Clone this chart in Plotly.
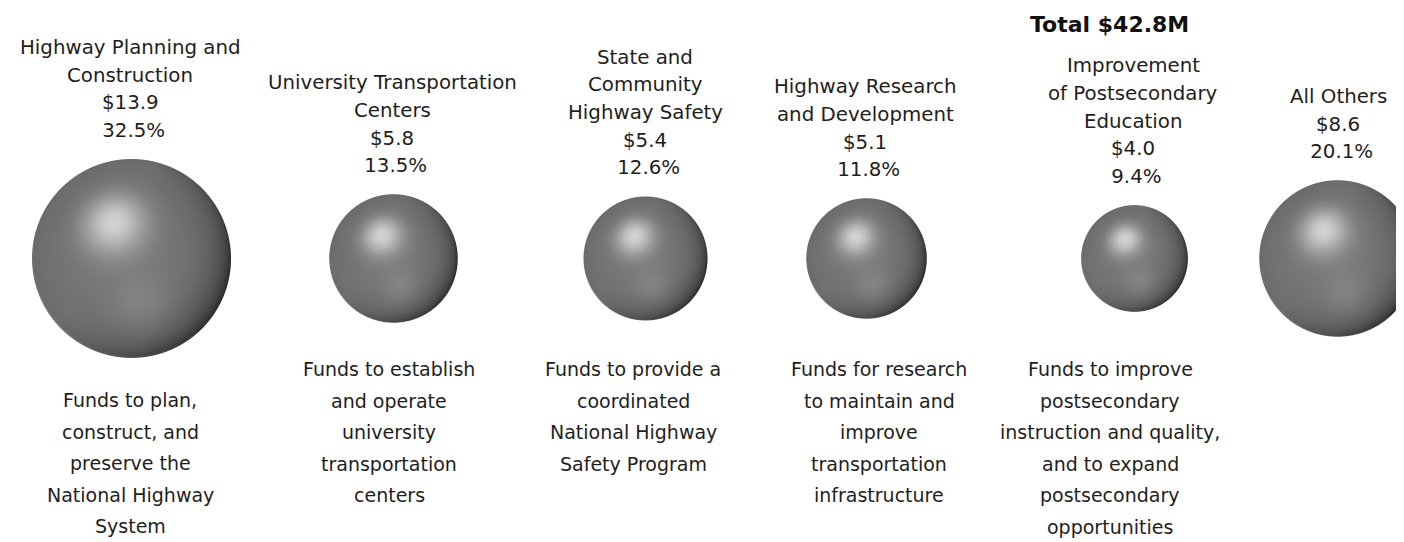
import plotly.graph_objects as go
import numpy as np

# ---- data ----
categories = [
    "Highway Planning and\nConstruction",
    "University Transportation\nCenters",
    "State and\nCommunity\nHighway Safety",
    "Highway Research\nand Development",
    "Improvement\nof Postsecondary\nEducation",
    "All Others",
]
amounts = [13.9, 5.8, 5.4, 5.1, 4.0, 8.6]          # $ millions
percents = [32.5, 13.5, 12.6, 11.8, 9.4, 20.1]
descriptions = [
    "Funds to plan,\nconstruct, and\npreserve the\nNational Highway\nSystem",
    "Funds to establish\nand operate\nuniversity\ntransportation\ncenters",
    "Funds to provide a\ncoordinated\nNational Highway\nSafety Program",
    "Funds for research\nto maintain and\nimprove\ntransportation\ninfrastructure",
    "Funds to improve\npostsecondary\ninstruction and quality,\nand to expand\npostsecondary\nopportunities",
    "",
]
total_label = "Total $42.8M"

# ---- layout (page-pixel space; page body has an 8px margin) ----
W, H = 1404, 542
OFF = 8
sphere_x = [131, 393, 645, 866, 1134, 1337]
sphere_y = 258
label_x = [130, 392, 645, 865, 1133, 1338]
desc_x = [130, 389, 633, 879, 1110, 1338]
desc_top = [400, 369, 369, 369, 369, 369]
k = 99.5 / np.sqrt(max(amounts))       # radius scale: area ~ amount
top_step, desc_step = 27.7, 31.6
FONT = "DejaVu Sans"
TXT = "#1e1e1e"

radii = [k * np.sqrt(a) for a in amounts]


def sphere_rgb(r):
    n = int(np.ceil(r)) + 1
    c = np.arange(-n, n + 1, dtype=float)
    X, Y = np.meshgrid(c, c)              # Y grows downward (page)
    dist = np.sqrt(X ** 2 + Y ** 2)
    alpha = np.clip(r - dist + 0.5, 0, 1)
    nx = np.clip(X / r, -1, 1)
    ny = np.clip(-Y / r, -1, 1)           # up positive
    nz = np.sqrt(np.clip(1 - nx ** 2 - ny ** 2, 0, 1))
    e = 1 - nz
    D = np.array([0.862, -0.507])
    p = nx * D[0] + ny * D[1]
    v = 0.47 - 0.06 * e
    v = v - 0.30 * e ** 1.2 * np.clip((p + 0.3) / 1.3, 0, 1)
    Hh = np.array([-0.18, 0.36, 0.92]); Hh /= np.linalg.norm(Hh)
    s = np.clip(nx * Hh[0] + ny * Hh[1] + nz * Hh[2], 0, 1)
    v = v + 0.36 * s ** 20
    v = v + 0.06 * np.exp(-((nx - 0.1) ** 2 + (ny + 0.45) ** 2) / 0.08)
    rim = np.clip((e - 0.72) / 0.28, 0, 1) ** 2 * np.clip(-ny - 0.25 * nx, 0, 1)
    v = v + 0.22 * rim
    v = np.clip(v, 0, 1) * 255
    out = alpha * v + (1 - alpha) * 255
    img = np.repeat(out[:, :, None], 3, axis=2).astype(np.uint8)
    return img, n


fig = go.Figure()
for i in range(len(amounts)):
    img, n = sphere_rgb(radii[i])
    fig.add_trace(go.Image(z=img, x0=sphere_x[i] - n, y0=sphere_y - n, dx=1, dy=1,
                           hoverinfo="skip"))

annotations = []
for i, cat in enumerate(categories):
    lines = cat.split("\n") + [f"${amounts[i]:.1f}", f"\u00a0{percents[i]:.1f}%"]
    last_y = sphere_y - radii[i] - 28
    nl = len(lines)
    for j, ln in enumerate(lines):
        annotations.append(dict(
            x=label_x[i], y=last_y - (nl - 1 - j) * top_step, text=ln,
            showarrow=False, xanchor="center", yanchor="middle",
            font=dict(family=FONT, size=19.8, color=TXT)))
    if descriptions[i]:
        for j, ln in enumerate(descriptions[i].split("\n")):
            annotations.append(dict(
                x=desc_x[i], y=desc_top[i] + j * desc_step, text=ln,
                showarrow=False, xanchor="center", yanchor="middle",
                font=dict(family=FONT, size=19, color=TXT)))

annotations.append(dict(x=1109, y=24, text=f"<b>{total_label}</b>", showarrow=False,
                        xanchor="center", yanchor="middle",
                        font=dict(family=FONT, size=22, color="#111111")))

fig.update_layout(
    width=W - OFF, height=H - OFF, margin=dict(l=0, r=0, t=0, b=0),
    paper_bgcolor="white", plot_bgcolor="white",
    xaxis=dict(range=[OFF, W], visible=False, fixedrange=True),
    yaxis=dict(range=[H, OFF], visible=False, fixedrange=True, autorange=False),
    annotations=annotations,
)
fig.write_html("out.html")
